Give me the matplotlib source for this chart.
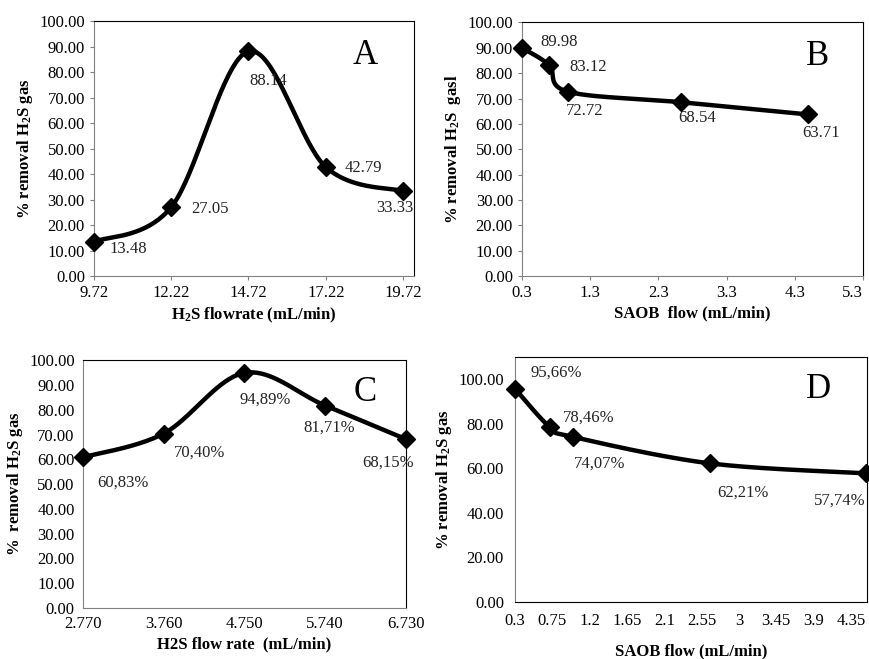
import numpy as np
import matplotlib.pyplot as plt

plt.rcParams['font.family'] = ['Liberation Serif', 'DejaVu Serif']
plt.rcParams['mathtext.fontset'] = 'custom'
plt.rcParams['mathtext.rm'] = 'Liberation Serif'
plt.rcParams['mathtext.bf'] = 'Liberation Serif:bold'
plt.rcParams['mathtext.it'] = 'Liberation Serif:italic'

# panel A - H2S flowrate
a_x = [9.72, 12.22, 14.72, 17.22, 19.72]
a_y = [13.48, 27.05, 88.14, 42.79, 33.33]
a_lbl = ['13.48', '27.05', '88.14', '42.79', '33.33']
a_xticks = [9.72, 12.22, 14.72, 17.22, 19.72]

# panel B - SAOB flow
b_x = [0.3, 0.7, 0.97, 2.63, 4.5]
b_y = [89.98, 83.12, 72.72, 68.54, 63.71]
b_lbl = ['89.98', '83.12', '72.72', '68.54', '63.71']
b_xticks = [0.3, 1.3, 2.3, 3.3, 4.3, 5.3]

# panel C - H2S flow rate
c_x = [2.770, 3.760, 4.750, 5.740, 6.730]
c_y = [60.83, 70.40, 94.89, 81.71, 68.15]
c_lbl = ['60,83%', '70,40%', '94,89%', '81,71%', '68,15%']
c_xticks = [2.770, 3.760, 4.750, 5.740, 6.730]

# panel D - SAOB flow
d_x = [0.3, 0.72, 1.0, 2.65, 4.53]
d_y = [95.66, 78.46, 74.07, 62.21, 57.74]
d_lbl = ['95,66%', '78,46%', '74,07%', '62,21%', '57,74%']
d_xticks = [0.3, 0.75, 1.2, 1.65, 2.1, 2.55, 3, 3.45, 3.9, 4.35]
d_xticklbl = ['0.3', '0.75', '1.2', '1.65', '2.1', '2.55', '3', '3.45', '3.9', '4.35']

FS = 12


def smooth(ax, x, y, n=40):
    # excel-like smoothed line, bezier through the points in axes space
    x0, x1 = ax.get_xlim()
    y0, y1 = ax.get_ylim()
    bb = ax.get_position()
    sx = bb.width * 8.7 / (x1 - x0)
    sy = bb.height * 6.59 / (y1 - y0)
    p = np.column_stack([(np.array(x) - x0) * sx, (np.array(y) - y0) * sy])
    out = []
    for i in range(len(p) - 1):
        pm = p[i - 1] if i > 0 else p[i]
        pn = p[i + 2] if i + 2 < len(p) else p[i + 1]
        c1 = p[i] + (p[i + 1] - pm) / 6
        c2 = p[i + 1] - (pn - p[i]) / 6
        t = np.linspace(0, 1, n)[:, None]
        seg = ((1 - t) ** 3 * p[i] + 3 * (1 - t) ** 2 * t * c1
               + 3 * (1 - t) * t ** 2 * c2 + t ** 3 * p[i + 1])
        out.append(seg)
    out = np.vstack(out)
    return out[:, 0] / sx + x0, out[:, 1] / sy + y0


def panel(pos, x, y, lbl, offs, xlim, ylim, yticks, ylabel, xlabel, letter, lpos, grey):
    ax = fig.add_axes(pos)
    ax.set_xlim(xlim)
    ax.set_ylim(ylim)
    sx, sy = smooth(ax, x, y)
    ax.plot(sx, sy, color='black', lw=3.2, clip_on=False, zorder=3)
    ax.plot(x, y, ls='none', marker='D', ms=9, color='black', clip_on=False, zorder=4)
    for xi, yi, t, o in zip(x, y, lbl, offs):
        ax.annotate(t, (xi, yi), xytext=o, textcoords='offset points',
                    ha='center', va='center', fontsize=FS, color='#222222')
    ax.set_yticks(yticks)
    ax.set_yticklabels(['%.2f' % v for v in yticks], fontsize=FS)
    ax.set_ylabel(ylabel, fontsize=FS, fontweight='bold', labelpad=3)
    ax.set_xlabel(xlabel, fontsize=FS, fontweight='bold', labelpad=3)
    ax.text(lpos[0], lpos[1], letter, transform=ax.transAxes, fontsize=25,
            ha='center', va='center')
    for s in ['top', 'right']:
        ax.spines[s].set_color('black')
    for s in grey:
        ax.spines[s].set_color('#808080')
    return ax


fig = plt.figure(figsize=(8.7, 6.59), dpi=100)

ax = panel([0.108, 0.581, 0.368, 0.387], a_x, a_y, a_lbl,
           [(25, -5), (28, -1.5), (14, -21), (27, -1), (-6, -12)],
           (9.72, 20.08), (0, 100), np.arange(0, 101, 10),
           r'% removal H$_{\mathbf{2}}$S gas', r'H$_{\mathbf{2}}$S flowrate (mL/min)', 'A',
           (0.847, 0.867), ['left', 'bottom'])
ax.set_xticks(a_xticks)
ax.set_xticklabels(['%.2f' % v for v in a_xticks], fontsize=FS)
ax.tick_params(direction='out', length=3, color='#808080')

ax = panel([0.600, 0.581, 0.392, 0.385], b_x, b_y, b_lbl,
           [(27, 4), (28, -1.5), (12, -14), (12, -11.5), (9, -13)],
           (0.3, 5.3), (0, 100), np.arange(0, 101, 10),
           r'% removal H$_{\mathbf{2}}$S  gasl', 'SAOB  flow (mL/min)', 'B',
           (0.868, 0.866), ['left', 'bottom'])
ax.set_xticks(b_xticks)
ax.set_xticklabels(['%.1f' % v for v in b_xticks], fontsize=FS)
ax.get_xticklabels()[-1].set_ha('right')
ax.tick_params(direction='out', length=3, color='#808080')

ax = panel([0.0954, 0.0774, 0.371, 0.376], c_x, c_y, c_lbl,
           [(29, -18), (26, -14), (15, -19), (3, -16), (-13, -17)],
           (2.77, 6.73), (0, 100), np.arange(0, 101, 10),
           r'%  removal H$_{\mathbf{2}}$S gas', 'H2S flow rate  (mL/min)', 'C',
           (0.873, 0.871), ['left', 'bottom'])
ax.set_xticks(c_xticks)
ax.set_xticklabels(['%.3f' % v for v in c_xticks], fontsize=FS)
ax.tick_params(length=0, pad=6)

ax = panel([0.592, 0.0865, 0.405, 0.372], d_x, d_y, d_lbl,
           [(30, 11.5), (28, 7), (19, -19), (24, -21), (-19, -19.5)],
           (0.3, 4.55), (0, 110), np.arange(0, 101, 20),
           r'% removal H$_{\mathbf{2}}$S gas', 'SAOB flow (mL/min)', 'D',
           (0.861, 0.865), ['left'])
ax.set_xticks(d_xticks)
ax.set_xticklabels(d_xticklbl, fontsize=FS)
ax.tick_params(length=0, pad=8)
ax.xaxis.labelpad = 10

fig.savefig('out.png', dpi=100, facecolor='white')
